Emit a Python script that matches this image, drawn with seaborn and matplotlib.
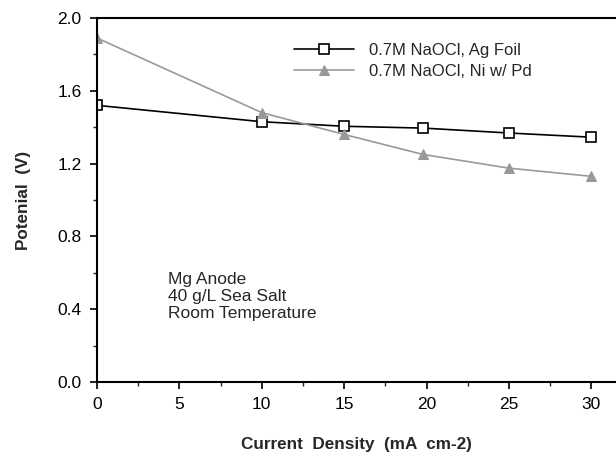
import matplotlib
matplotlib.use("Agg")
import matplotlib.pyplot as plt
import seaborn as sns
import pandas as pd
from matplotlib.ticker import MultipleLocator

# data
ag_x = [0, 10, 15, 19.8, 25, 30]
ag_y = [1.52, 1.43, 1.405, 1.395, 1.368, 1.345]
ni_x = [0, 10, 15, 19.8, 25, 30]
ni_y = [1.89, 1.48, 1.36, 1.25, 1.175, 1.13]
labels = ["0.7M NaOCl, Ag Foil", "0.7M NaOCl, Ni w/ Pd"]

sns.set_style("ticks")
plt.rcParams['font.family'] = ['Liberation Sans', 'DejaVu Sans']

fig = plt.figure(figsize=(6.16, 4.54), dpi=100)
ax = fig.add_axes([0.1575, 0.1586, 0.8425, 0.8018])

ag = pd.DataFrame({"x": ag_x, "y": ag_y})
ni = pd.DataFrame({"x": ni_x, "y": ni_y})

sns.lineplot(data=ag, x="x", y="y", ax=ax, color="black", lw=1.2,
             marker="s", markersize=7.5, markerfacecolor="white",
             markeredgecolor="black", markeredgewidth=1.2, label=labels[0])
sns.lineplot(data=ni, x="x", y="y", ax=ax, color="#999999", lw=1.2,
             marker="^", markersize=7.5, markerfacecolor="#999999",
             markeredgecolor="#999999", label=labels[1])

ax.set_xlim(0, 31.5)
ax.set_ylim(0, 2.0)
ax.xaxis.set_major_locator(MultipleLocator(5))
ax.xaxis.set_minor_locator(MultipleLocator(2.5))
ax.yaxis.set_major_locator(MultipleLocator(0.4))
ax.yaxis.set_minor_locator(MultipleLocator(0.2))
ax.set_yticklabels([f"{v:.1f}" for v in ax.get_yticks()])

for s in ["left", "bottom", "top"]:
    ax.spines[s].set_linewidth(1.5)
    ax.spines[s].set_color("black")
ax.spines["right"].set_visible(False)

ax.tick_params(which="major", direction="out", length=5, width=1.2,
               labelsize=12.5, colors="black", pad=6)
ax.tick_params(which="minor", direction="out", length=3, width=1.0)
ax.tick_params(axis="y", which="both", right=False)

ax.set_xlabel("Current  Density  (mA  cm-2)", fontsize=12.3, fontweight="bold",
              labelpad=18)
ax.set_ylabel("Potenial  (V)", fontsize=12.3, fontweight="bold", labelpad=19)

ax.text(4.3, 0.605, "Mg Anode\n40 g/L Sea Salt\nRoom Temperature",
        fontsize=12.5, va="top", ha="left", linespacing=1.17)

ax.legend(loc="upper left", bbox_to_anchor=(0.35, 0.972), frameon=False,
          fontsize=12, handlelength=3.6, handletextpad=0.9, labelspacing=0.35)

fig.savefig("out.png", dpi=100)
